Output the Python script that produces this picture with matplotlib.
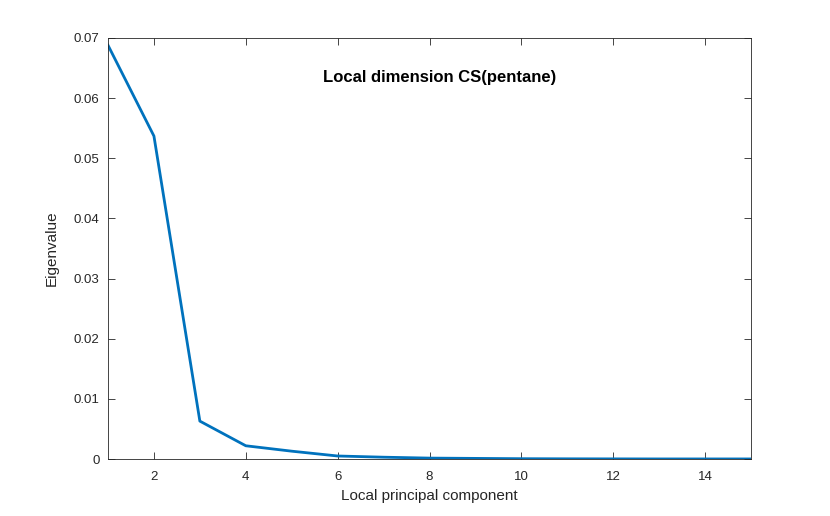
import matplotlib
matplotlib.use("Agg")
import matplotlib.pyplot as plt

plt.rcParams['font.family'] = ['Liberation Sans', 'DejaVu Sans']

components = list(range(1, 16))
eigenvalues = [0.0688, 0.0537, 0.0063, 0.0022, 0.0013, 0.0005, 0.0003, 0.00015,
               0.0001, 0.00005, 0.00003, 0.00002, 0.00001, 0.00001, 0.00001]
xticks = [2, 4, 6, 8, 10, 12, 14]
yticks = [0, 0.01, 0.02, 0.03, 0.04, 0.05, 0.06, 0.07]
ytick_labels = ['0', '0.01', '0.02', '0.03', '0.04', '0.05', '0.06', '0.07']

fig = plt.figure(figsize=(8.3, 5.16), dpi=100)
ax = fig.add_axes([108/830, 57/516, 643/830, 421/516])
ax.plot(components, eigenvalues, color='#0072BD', linewidth=2)
ax.set_xlim(1, 15)
ax.set_ylim(0, 0.07)
ax.set_xticks(xticks)
ax.set_yticks(yticks)
ax.set_yticklabels(ytick_labels)
ax.tick_params(direction='in', top=True, right=True, labelsize=9.5, colors='#262626',
               length=5, width=0.6)
ax.tick_params(axis='x', pad=9)
ax.tick_params(axis='y', pad=6)
for s in ax.spines.values():
    s.set_color('#262626')
    s.set_linewidth(0.6)
ax.set_xlabel('Local principal component', fontsize=11, color='#262626', labelpad=4)
ax.set_ylabel('Eigenvalue', fontsize=11, color='#262626', labelpad=11)
ax.text(0.515, 0.905, 'Local dimension CS(pentane)', transform=ax.transAxes,
        ha='center', va='center', fontsize=12, fontweight='bold', color='black')
fig.savefig('out.png', dpi=100)
